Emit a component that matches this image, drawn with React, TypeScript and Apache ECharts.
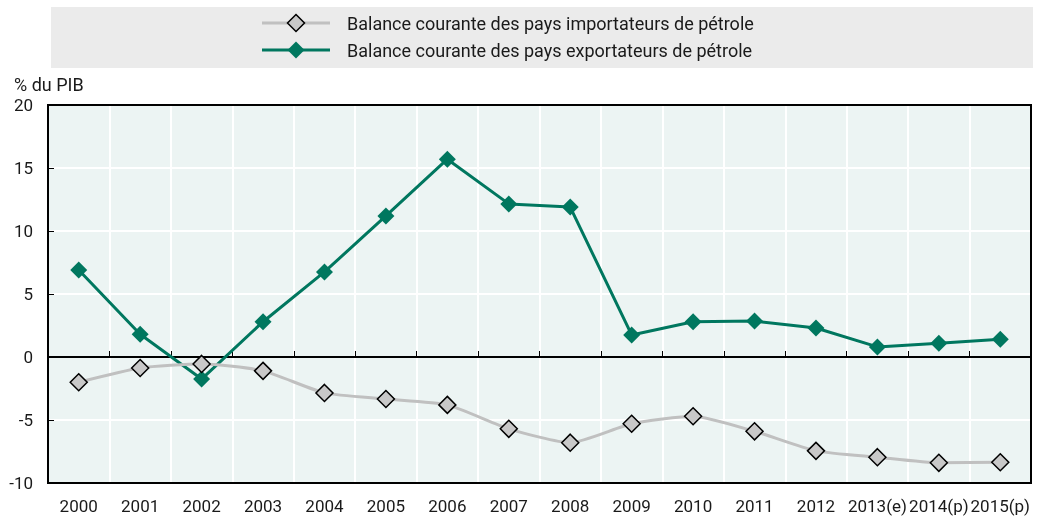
import React, { useEffect, useRef } from "react";
import * as echarts from "echarts";

const categories = ["2000", "2001", "2002", "2003", "2004", "2005", "2006", "2007", "2008", "2009", "2010", "2011", "2012", "2013(e)", "2014(p)", "2015(p)"];
const importers = [-2.0, -0.87, -0.55, -1.1, -2.85, -3.33, -3.8, -5.7, -6.8, -5.3, -4.7, -5.9, -7.45, -7.95, -8.4, -8.35];
const exporters = [6.9, 1.8, -1.75, 2.8, 6.75, 11.2, 15.7, 12.15, 11.9, 1.75, 2.8, 2.85, 2.3, 0.8, 1.1, 1.4];
const importersName = "Balance courante des pays importateurs de pétrole";
const exportersName = "Balance courante des pays exportateurs de pétrole";
const yUnit = "% du PIB";

const FONT = "Roboto, 'Liberation Sans', sans-serif";
const GL = 48, GR = 11, GT = 105, GB = 34;
const TEAL = "#00775f";
const GRAY_LINE = "#c0c0c0";
const GRAY_FILL = "#c8c8c8";

function legendItem(y: number, name: string, lineColor: string, fill: string, stroke: string | null) {
  const cx = 296, r = 8.5;
  return [
    { type: "line", shape: { x1: 262, y1: y, x2: 330, y2: y }, style: { stroke: lineColor, lineWidth: 3 } },
    {
      type: "polygon",
      shape: { points: [[cx, y - r], [cx + r, y], [cx, y + r], [cx - r, y]] },
      style: stroke ? { fill, stroke, lineWidth: 1.5 } : { fill },
    },
    { type: "text", x: 347, y, style: { text: name, font: `18px ${FONT}`, fill: "#1a1a1a", textVerticalAlign: "middle" } },
  ];
}

export default function App() {
  const ref = useRef<HTMLDivElement>(null);
  useEffect(() => {
    if (!ref.current) return;
    const chart = echarts.init(ref.current, undefined, { renderer: "svg" });
    chart.setOption({
      animation: false,
      textStyle: { fontFamily: FONT },
      graphic: [
        { type: "rect", z: -1, shape: { x: 51, y: 7, width: 982, height: 61 }, style: { fill: "#ebebeb" } },
        ...legendItem(23, importersName, GRAY_LINE, GRAY_FILL, "#000"),
        ...legendItem(50, exportersName, TEAL, TEAL, null),
        { type: "text", x: 14, y: 84, style: { text: yUnit, font: `18px ${FONT}`, fill: "#1a1a1a", textVerticalAlign: "middle" } },
        {
          type: "rect",
          z: 100,
          silent: true,
          shape: { x: GL, y: GT, width: 1042 - GL - GR, height: 517 - GT - GB },
          style: { fill: "none", stroke: "#000", lineWidth: 2 },
        },
      ],
      grid: { left: GL, right: GR, top: GT, bottom: GB, show: true, backgroundColor: "#ecf4f3", borderWidth: 0 },
      xAxis: {
        type: "category",
        data: categories,
        boundaryGap: true,
        axisLine: { show: true, lineStyle: { color: "#000", width: 2 } },
        axisTick: { show: true, inside: true, length: 6, lineStyle: { color: "#000", width: 1 } },
        axisLabel: { fontSize: 17, color: "#1a1a1a", margin: 14, fontFamily: FONT, interval: 0 },
        splitLine: { show: true, lineStyle: { color: "#ffffff", width: 2 } },
      },
      yAxis: {
        type: "value",
        min: -10,
        max: 20,
        interval: 5,
        axisLine: { show: true, lineStyle: { color: "#000", width: 2 } },
        axisTick: { show: true, inside: true, length: 6, lineStyle: { color: "#000" } },
        axisLabel: { fontSize: 17, color: "#1a1a1a", margin: 15, fontFamily: FONT },
        splitLine: { show: true, lineStyle: { color: "#ffffff", width: 2 } },
      },
      series: [
        {
          name: exportersName,
          type: "line",
          data: exporters,
          symbol: "diamond",
          symbolSize: 17,
          lineStyle: { color: TEAL, width: 3 },
          itemStyle: { color: TEAL, borderWidth: 0 },
          z: 2,
          markLine: {
            silent: true,
            symbol: "none",
            label: { show: false },
            lineStyle: { color: "#000", width: 2, type: "solid" },
            data: [{ yAxis: 0 }],
            z: 1,
          },
        },
        {
          name: importersName,
          type: "line",
          data: importers,
          smooth: 0.2,
          symbol: "diamond",
          symbolSize: 17,
          lineStyle: { color: GRAY_LINE, width: 3 },
          itemStyle: { color: GRAY_FILL, borderColor: "#000", borderWidth: 1.5 },
          z: 3,
        },
      ],
    });
    return () => chart.dispose();
  }, []);
  return <div ref={ref} style={{ position: "fixed", left: 0, top: 0, width: 1042, height: 517 }} />;
}
